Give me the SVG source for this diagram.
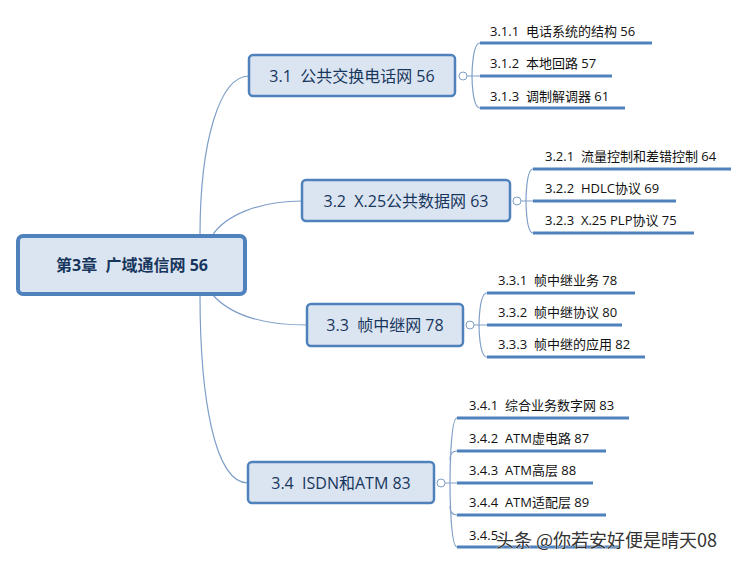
<svg xmlns="http://www.w3.org/2000/svg" width="749" height="564" viewBox="0 0 749 564" xml:space="preserve">
<style>
.box{fill:#dbe5f1;stroke:#4f81bd;stroke-width:2.5}
.root{fill:#dbe5f1;stroke:#4f81bd;stroke-width:4}
.t{font-family:"Open Sans","Noto Sans CJK SC",sans-serif;fill:#17365d;white-space:pre}
.mt{font-size:16px;text-anchor:middle}
.st{font-size:13px;fill:#111}
.con{fill:none;stroke:#7f9fc8;stroke-width:1.2}
.ul{stroke:#4f81bd;stroke-width:3}
.cc{fill:#fff;stroke:#7f9fc8;stroke-width:1}
</style>
<rect width="749" height="564" fill="#fff"/>
<g id="connectors">
<path class="con" d="M200,236 C200,140 220,76 249,76"/>
<path class="con" d="M212,236 C225,215 260,201 302,201"/>
<path class="con" d="M212,294 C230,315 260,325 307,325"/>
<path class="con" d="M200,294 C200,400 215,483 248,483"/>
<path class="con" d="M467,76 H472 M480,43 C472,43 472,76 472,76 C472,76 472,108 480,108 M472,76 H480"/>
<path class="con" d="M521,201 H526 M533,169 C526,169 526,201 526,201 C526,201 526,233 533,233 M526,201 H533"/>
<path class="con" d="M474,325 H479 M487,293 C479,293 479,325 479,325 C479,325 479,357 487,357 M479,325 H487"/>
<path class="con" d="M445,483 H450 M457,418 C450,418 450,483 450,483 C450,483 450,547 457,547 M457,451 C452,451 450,455 450,460 M457,515 C452,515 450,511 450,506 M450,483 H457"/>
</g>
<g id="root"><rect class="root" x="18" y="236" width="227" height="58" rx="5"/><text class="t mt" x="132" y="271" style="font-weight:bold">第3章  广域通信网 56</text></g>
<g id="n31"><rect class="box" x="249" y="55" width="206" height="41" rx="4"/><text class="t mt" x="352" y="82">3.1  公共交换电话网 56</text><circle class="cc" cx="463" cy="76" r="4"/></g>
<g id="n32"><rect class="box" x="302" y="180" width="208" height="41" rx="4"/><text class="t mt" x="406" y="207">3.2  X.25公共数据网 63</text><circle class="cc" cx="517" cy="201" r="4"/></g>
<g id="n33"><rect class="box" x="307" y="304" width="156" height="42" rx="4"/><text class="t mt" x="385" y="331">3.3  帧中继网 78</text><circle class="cc" cx="470" cy="325" r="4"/></g>
<g id="n34"><rect class="box" x="248" y="462" width="186" height="41" rx="4"/><text class="t mt" x="341" y="489">3.4  ISDN和ATM 83</text><circle class="cc" cx="441" cy="483" r="4"/></g>
<g id="c311"><line class="ul" x1="480" y1="43" x2="652" y2="43"/><text class="t st" x="490" y="36">3.1.1  电话系统的结构 56</text></g>
<g id="c312"><line class="ul" x1="480" y1="76" x2="612" y2="76"/><text class="t st" x="490" y="68">3.1.2  本地回路 57</text></g>
<g id="c313"><line class="ul" x1="480" y1="108" x2="625" y2="108"/><text class="t st" x="490" y="101">3.1.3  调制解调器 61</text></g>
<g id="c321"><line class="ul" x1="533" y1="169" x2="731" y2="169"/><text class="t st" x="545" y="161">3.2.1  流量控制和差错控制 64</text></g>
<g id="c322"><line class="ul" x1="533" y1="201" x2="676" y2="201"/><text class="t st" x="545" y="193">3.2.2  HDLC协议 69</text></g>
<g id="c323"><line class="ul" x1="533" y1="233" x2="694" y2="233"/><text class="t st" x="545" y="225">3.2.3  X.25 PLP协议 75</text></g>
<g id="c331"><line class="ul" x1="487" y1="293" x2="635" y2="293"/><text class="t st" x="498" y="285">3.3.1  帧中继业务 78</text></g>
<g id="c332"><line class="ul" x1="487" y1="325" x2="622" y2="325"/><text class="t st" x="498" y="317">3.3.2  帧中继协议 80</text></g>
<g id="c333"><line class="ul" x1="487" y1="357" x2="645" y2="357"/><text class="t st" x="498" y="349">3.3.3  帧中继的应用 82</text></g>
<g id="c341"><line class="ul" x1="457" y1="418" x2="629" y2="418"/><text class="t st" x="469" y="410">3.4.1  综合业务数字网 83</text></g>
<g id="c342"><line class="ul" x1="457" y1="451" x2="606" y2="451"/><text class="t st" x="469" y="443">3.4.2  ATM虚电路 87</text></g>
<g id="c343"><line class="ul" x1="457" y1="483" x2="593" y2="483"/><text class="t st" x="469" y="475">3.4.3  ATM高层 88</text></g>
<g id="c344"><line class="ul" x1="457" y1="515" x2="606" y2="515"/><text class="t st" x="469" y="507">3.4.4  ATM适配层 89</text></g>
<g id="c345"><line class="ul" x1="457" y1="547" x2="619" y2="547"/><text class="t st" x="469" y="540">3.4.5</text></g>
<text x="496" y="547" style="font-family:'Noto Sans CJK SC',sans-serif;font-size:18px;fill:#333;stroke:#fff;stroke-width:0.6;paint-order:stroke">头条 @你若安好便是晴天08</text>
</svg>
